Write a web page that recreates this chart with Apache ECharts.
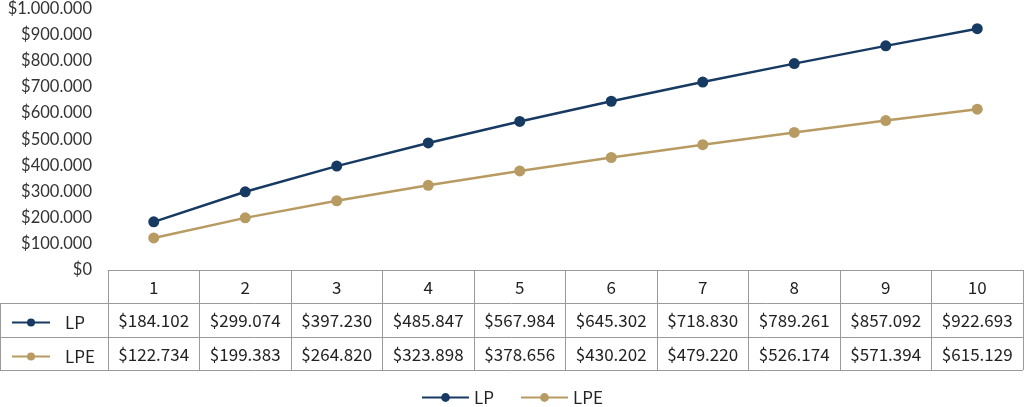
<!DOCTYPE html>
<html><head><meta charset="utf-8">
<script src="https://cdn.jsdelivr.net/npm/echarts@6/dist/echarts.min.js"></script>
<style>html,body{margin:0;padding:0;background:#fff}#c{width:1024px;height:407px}</style>
</head><body><div id="c"></div>
<script>
const categories = ['1','2','3','4','5','6','7','8','9','10'];
const lpValues = [184102, 299074, 397230, 485847, 567984, 645302, 718830, 789261, 857092, 922693];
const lpeValues = [122734, 199383, 264820, 323898, 378656, 430202, 479220, 526174, 571394, 615129];
const seriesNames = ['LP', 'LPE'];
const yTicks = { min: 0, max: 1000000, interval: 100000 };

const NAVY = '#173a63', GOLD = '#b89b63', GRID = '#9a9a9a';
const fmt = v => '$' + String(Math.round(v)).replace(/\B(?=(\d{3})+(?!\d))/g, '.');
const tableFont = '"Noto Sans CJK SC", "Noto Sans", sans-serif';
const TF = 17;

const chart = echarts.init(document.getElementById('c'));
const baseX = {
  type: 'category', data: categories, gridIndex: 0, position: 'bottom', boundaryGap: true,
  axisLine: { show: false }, axisTick: { show: false }, splitLine: { show: false }
};
chart.setOption({
  animation: false,
  grid: { left: 108, right: 1, top: 8, bottom: 137, containLabel: false },
  legend: [
    { data: seriesNames, left: 'center', top: 384, itemWidth: 47, itemHeight: 11, itemGap: 26,
      textStyle: { fontFamily: tableFont, fontSize: TF, color: '#222' } },
    { data: ['LP'], left: 6, top: 309, itemWidth: 38, itemHeight: 10,
      textStyle: { fontFamily: tableFont, fontSize: TF, color: '#222', padding: [0, 0, 0, 10] } },
    { data: ['LPE'], left: 6, top: 343, itemWidth: 38, itemHeight: 10,
      textStyle: { fontFamily: tableFont, fontSize: TF, color: '#222', padding: [0, 0, 0, 10] } }
  ],
  xAxis: [
    Object.assign({}, baseX, {
      axisLine: { show: true, lineStyle: { color: GRID, width: 1 } },
      axisTick: { show: true, length: 100, interval: 0, lineStyle: { color: GRID, width: 1 } },
      axisLabel: { interval: 0, margin: 9, fontFamily: tableFont, fontSize: TF, color: '#222' }
    }),
    Object.assign({}, baseX, {
      axisLabel: { interval: 0, margin: 42, fontFamily: tableFont, fontSize: TF, color: '#222',
        formatter: (v, i) => fmt(lpValues[i]) }
    }),
    Object.assign({}, baseX, {
      axisLabel: { interval: 0, margin: 76, fontFamily: tableFont, fontSize: TF, color: '#222',
        formatter: (v, i) => fmt(lpeValues[i]) }
    })
  ],
  yAxis: {
    type: 'value', min: yTicks.min, max: yTicks.max, interval: yTicks.interval,
    axisLine: { show: false }, axisTick: { show: false }, splitLine: { show: false },
    axisLabel: { margin: 16, fontFamily: 'Lato, sans-serif', fontSize: 16.5, color: '#333', formatter: fmt }
  },
  series: [
    { name: 'LP', type: 'line', data: lpValues, xAxisIndex: 0, color: NAVY, symbol: 'circle', symbolSize: 11,
      lineStyle: { width: 2.5, color: NAVY }, itemStyle: { color: NAVY } },
    { name: 'LPE', type: 'line', data: lpeValues, xAxisIndex: 0, color: GOLD, symbol: 'circle', symbolSize: 11,
      lineStyle: { width: 2.5, color: GOLD }, itemStyle: { color: GOLD } }
  ],
  graphic: [
    { type: 'line', shape: { x1: 0, y1: 303.5, x2: 1023, y2: 303.5 }, style: { stroke: GRID, lineWidth: 1 } },
    { type: 'line', shape: { x1: 0, y1: 337.5, x2: 1023, y2: 337.5 }, style: { stroke: GRID, lineWidth: 1 } },
    { type: 'line', shape: { x1: 0, y1: 370.5, x2: 1023, y2: 370.5 }, style: { stroke: GRID, lineWidth: 1 } },
    { type: 'line', shape: { x1: 0.5, y1: 303, x2: 0.5, y2: 371 }, style: { stroke: GRID, lineWidth: 1 } }
  ]
});
</script></body></html>
